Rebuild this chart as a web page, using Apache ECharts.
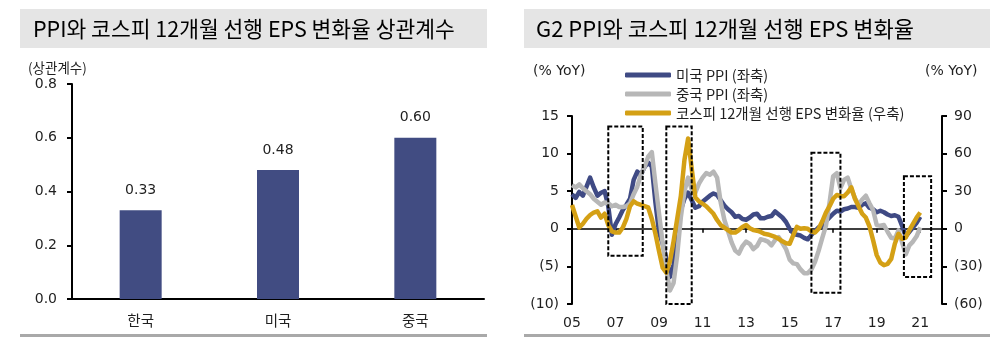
<!DOCTYPE html>
<html>
<head>
<meta charset="utf-8">
<script src="https://cdn.jsdelivr.net/npm/echarts@6/dist/echarts.min.js"></script>
<style>
  html, body { margin: 0; padding: 0; background: #fff; }
  #chart { width: 1000px; height: 337px; }
</style>
</head>
<body>
<div id="chart"></div>
<script>
// ---- Left panel: correlation of PPI with KOSPI 12M forward EPS change ----
const countries = ['한국', '미국', '중국'];
const correlations = [0.33, 0.48, 0.60];
const corrTickLabels = ['0.0', '0.2', '0.4', '0.6', '0.8'];

// ---- Right panel: G2 PPI vs KOSPI 12M forward EPS change (% YoY) ----
// One value every two months, starting Jan 2005 (Jan, Mar, May, Jul, Sep, Nov per row)
const START_YEAR = 2005;
const STEP_MONTHS = 2;

const usPpi = [
  4.6, 4.1, 4.9, 4.4, 5.6, 6.8,       // 2005
  5.5, 4.4, 4.8, 5.0, 3.0, -0.8,      // 2006
  0.6, 1.5, 2.5, 3.2, 4.0, 6.5,       // 2007
  7.6, 7.2, 8.2, 8.8, 8.3, 3.5,       // 2008
  -0.5, -2.0, -4.0, -6.4, -4.8, -1.0, // 2009
  2.5, 4.0, 4.8, 3.8, 2.8, 3.0,       // 2010
  3.6, 4.0, 4.4, 4.7, 4.5, 3.8,       // 2011
  3.1, 2.6, 2.2, 1.6, 1.7, 1.3,       // 2012
  1.2, 1.5, 1.9, 2.0, 1.4, 1.4,       // 2013
  1.6, 1.7, 2.3, 1.9, 1.5, 0.9,       // 2014
  0.0, -0.6, -0.8, -0.9, -1.2, -1.4,  // 2015
  -0.8, -0.3, 0.2, 0.4, 1.0, 1.5,     // 2016
  2.0, 2.4, 2.3, 2.6, 2.7, 2.9,       // 2017
  2.9, 2.8, 3.2, 3.4, 2.8, 2.6,       // 2018
  2.2, 2.4, 2.2, 1.9, 1.7, 1.8,       // 2019
  1.6, 0.4, -1.0, -0.4, 0.2, 0.8,     // 2020
  1.6                                 // 2021
];

const chinaPpi = [
  5.8, 5.5, 5.9, 5.4, 5.0, 4.6,       // 2005
  4.0, 3.6, 3.2, 3.5, 3.4, 3.0,       // 2006
  3.2, 2.9, 2.9, 3.0, 3.4, 4.6,       // 2007
  5.6, 7.2, 8.2, 9.6, 10.2, 6.0,      // 2008
  2.0, -2.0, -5.5, -8.2, -7.2, -3.5,  // 2009
  1.5, 5.0, 6.8, 5.2, 4.8, 6.0,       // 2010
  6.8, 7.4, 7.2, 7.6, 6.8, 3.5,       // 2011
  1.2, -0.3, -1.8, -2.9, -3.3, -2.3,  // 2012
  -1.7, -2.0, -2.7, -2.3, -1.4, -1.5, // 2013
  -1.7, -2.2, -1.5, -1.1, -1.9, -2.7, // 2014
  -4.1, -4.6, -4.7, -5.4, -5.9, -5.9, // 2015
  -5.4, -4.4, -2.9, -1.2, 0.4, 3.5,   // 2016
  7.0, 7.4, 5.4, 6.5, 6.8, 5.3,       // 2017
  4.1, 3.2, 3.9, 4.4, 3.4, 2.5,       // 2018
  0.5, 0.4, 0.5, -0.4, -1.2, -1.3,    // 2019
  -0.2, -1.8, -3.4, -2.2, -1.7, -1.0, // 2020
  0.2                                 // 2021
];

const kospiEps = [
  19, 10, 1, 4, 8, 11,                // 2005
  13, 14, 9, 12, 3, -2,               // 2006
  -3, -3, 1, 8, 18, 22,               // 2007
  20, 19, 18, 17, 8, -4,              // 2008
  -18, -31, -35, -26, -10, 8,         // 2009
  26, 55, 72, 48, 25, 22,             // 2010
  20, 18, 15, 12, 7, 3,               // 2011
  1, -1, -3, -3, -1, 1.5,             // 2012
  3, 0.5, -1, -1.5, -2.5, -4,         // 2013
  -4.5, -5.5, -6.5, -8, -10, -11.5,   // 2014
  -12, -5, 1.5, 0, 0.5, 0,            // 2015
  -2, -3, 0, 6, 13, 18,               // 2016
  24, 27, 26, 26, 29, 33,             // 2017
  24, 18, 12, 9, 2, -9,               // 2018
  -21, -27, -29, -28, -24, -12,       // 2019
  -4, -8, -7, -1, 4, 9,               // 2020
  13                                  // 2021
];

const seriesNames = ['미국 PPI (좌축)', '중국 PPI (좌축)', '코스피 12개월 선행 EPS 변화율 (우축)'];
const yearLabels = ['05', '07', '09', '11', '13', '15', '17', '19', '21'];
const ppiTickLabels = ['(10)', '(5)', '0', '5', '10', '15'];
const epsTickLabels = ['(60)', '(30)', '0', '30', '60', '90'];

// Highlighted periods: [from, to, low, high] with low/high on the PPI axis
const highlightRanges = [
  ['2006-09', '2008-04', -3.6, 13.6],
  ['2009-05', '2010-07', -10.6, 13.6],
  ['2016-01', '2017-05', -8.5, 10.1],
  ['2020-04', '2021-07', -6.4, 7.0]
];

// ---- helpers & styles ----
const FONT_NUM = '"DejaVu Sans", sans-serif';
const FONT_KR = '"Noto Sans CJK KR", sans-serif';
const TEXT = '#1f1f1f';
const BAR_COLOR = '#414c82';
const COLORS = ['#3f4a84', '#b7b7b7', '#d4a015'];

const monthIndex = s => {
  const [y, m] = s.split('-').map(Number);
  return (y - START_YEAR) * 12 + (m - 1);
};
const toPoints = values => values.map((v, i) => [i * STEP_MONTHS, v]);
const X_MAX = monthIndex('2022-01');

const axisLineStyle = { color: '#000', width: 2 };

const chart = echarts.init(document.getElementById('chart'));

const option = {
  animation: false,
  textStyle: { fontFamily: FONT_NUM },
  graphic: [
    { type: 'rect', shape: { x: 20, y: 9, width: 467, height: 39 }, style: { fill: '#e5e5e5' }, silent: true },
    { type: 'rect', shape: { x: 524, y: 9, width: 466, height: 39 }, style: { fill: '#e5e5e5' }, silent: true },
    { type: 'text', x: 33, y: 29, style: { text: 'PPI와 코스피 12개월 선행 EPS 변화율 상관계수', font: '21.5px ' + FONT_KR, fill: '#000', verticalAlign: 'middle' } },
    { type: 'text', x: 536, y: 29, style: { text: 'G2 PPI와 코스피 12개월 선행 EPS 변화율', font: '22px ' + FONT_KR, fill: '#000', verticalAlign: 'middle' } },
    { type: 'rect', shape: { x: 20, y: 334, width: 467, height: 3 }, style: { fill: '#a9a9a9' }, silent: true },
    { type: 'rect', shape: { x: 524, y: 334, width: 466, height: 3 }, style: { fill: '#a9a9a9' }, silent: true },
    { type: 'text', x: 28, y: 68, style: { text: '(상관계수)', font: '13.5px ' + FONT_KR, fill: TEXT, verticalAlign: 'middle' } },
    { type: 'text', x: 533, y: 71, style: { text: '(% YoY)', font: '14px ' + FONT_NUM, fill: TEXT, verticalAlign: 'middle' } },
    { type: 'text', x: 925, y: 71, style: { text: '(% YoY)', font: '14px ' + FONT_NUM, fill: TEXT, verticalAlign: 'middle' } }
  ],
  legend: {
    data: seriesNames,
    orient: 'vertical',
    left: 620,
    top: 62,
    itemWidth: 46,
    itemHeight: 5,
    itemGap: 3,
    icon: 'roundRect',
    textStyle: { fontFamily: FONT_KR, fontSize: 14.5, color: TEXT, lineHeight: 16 }
  },
  grid: [
    { left: 72, top: 84, width: 412, height: 215 },
    { left: 572, top: 116, width: 370, height: 188 }
  ],
  xAxis: [
    {
      gridIndex: 0, type: 'category', data: countries,
      axisLine: { lineStyle: axisLineStyle },
      axisTick: { length: 5, lineStyle: axisLineStyle },
      axisLabel: { fontFamily: FONT_KR, fontSize: 14.5, color: TEXT, margin: 14 }
    },
    {
      gridIndex: 1, type: 'value', position: 'bottom', min: 0, max: X_MAX, interval: 24,
      axisLine: { show: false, onZero: false },
      axisTick: { show: false },
      splitLine: { show: false },
      axisLabel: {
        fontSize: 14, color: TEXT, margin: 12, showMaxLabel: false,
        formatter: v => yearLabels[v / 24] || ''
      }
    },
    {
      gridIndex: 1, type: 'value', position: 'bottom', min: 0, max: X_MAX, interval: 24,
      axisLine: { show: true, onZero: true, lineStyle: { color: '#000', width: 1.5 } },
      axisTick: { show: true, length: 4, lineStyle: { color: '#000', width: 1.5 } },
      axisLabel: { show: false },
      splitLine: { show: false }
    }
  ],
  yAxis: [
    {
      gridIndex: 0, type: 'value', min: 0, max: 0.8, interval: 0.2,
      axisLine: { show: true, onZero: false, lineStyle: axisLineStyle },
      axisTick: { show: true, length: 5, lineStyle: axisLineStyle },
      splitLine: { show: false },
      axisLabel: { fontSize: 14, color: TEXT, margin: 15, formatter: v => corrTickLabels[Math.round(v / 0.2)] }
    },
    {
      gridIndex: 1, type: 'value', position: 'left', min: -10, max: 15, interval: 5,
      axisLine: { show: true, onZero: false, lineStyle: axisLineStyle },
      axisTick: { show: true, length: 5, lineStyle: axisLineStyle },
      splitLine: { show: false },
      axisLabel: { fontSize: 14, color: TEXT, margin: 13, formatter: v => ppiTickLabels[Math.round((v + 10) / 5)] }
    },
    {
      gridIndex: 1, type: 'value', position: 'right', min: -60, max: 90, interval: 30,
      axisLine: { show: true, onZero: false, lineStyle: axisLineStyle },
      axisTick: { show: true, length: 5, lineStyle: axisLineStyle },
      splitLine: { show: false },
      axisLabel: { fontSize: 14, color: TEXT, margin: 12, formatter: v => epsTickLabels[Math.round((v + 60) / 30)] }
    }
  ],
  series: [
    {
      type: 'bar', xAxisIndex: 0, yAxisIndex: 0,
      data: correlations, barWidth: 42,
      itemStyle: { color: BAR_COLOR },
      label: {
        show: true, position: 'top', distance: 13,
        fontFamily: FONT_NUM, fontSize: 14, color: TEXT,
        formatter: p => p.value.toFixed(2)
      }
    },
    {
      name: seriesNames[0], type: 'line', xAxisIndex: 1, yAxisIndex: 1,
      data: toPoints(usPpi), symbol: 'none',
      lineStyle: { width: 4.5, color: COLORS[0], join: 'round' }, itemStyle: { color: COLORS[0] }
    },
    {
      name: seriesNames[1], type: 'line', xAxisIndex: 1, yAxisIndex: 1,
      data: toPoints(chinaPpi), symbol: 'none',
      lineStyle: { width: 4.5, color: COLORS[1], join: 'round' }, itemStyle: { color: COLORS[1] }
    },
    {
      name: seriesNames[2], type: 'line', xAxisIndex: 1, yAxisIndex: 2,
      data: toPoints(kospiEps), symbol: 'none',
      lineStyle: { width: 4.5, color: COLORS[2], join: 'round' }, itemStyle: { color: COLORS[2] }
    },
    {
      type: 'line', xAxisIndex: 1, yAxisIndex: 1, data: [], clip: false, silent: true, z: 10,
      markArea: {
        silent: true,
        z: 10,
        itemStyle: { color: 'rgba(0,0,0,0)', borderColor: '#000', borderWidth: 2, borderType: [4, 2] },
        data: highlightRanges.map(([from, to, low, high]) => [
          { coord: [monthIndex(from), high] },
          { coord: [monthIndex(to), low] }
        ])
      }
    }
  ]
};

chart.setOption(option);
</script>
</body>
</html>
